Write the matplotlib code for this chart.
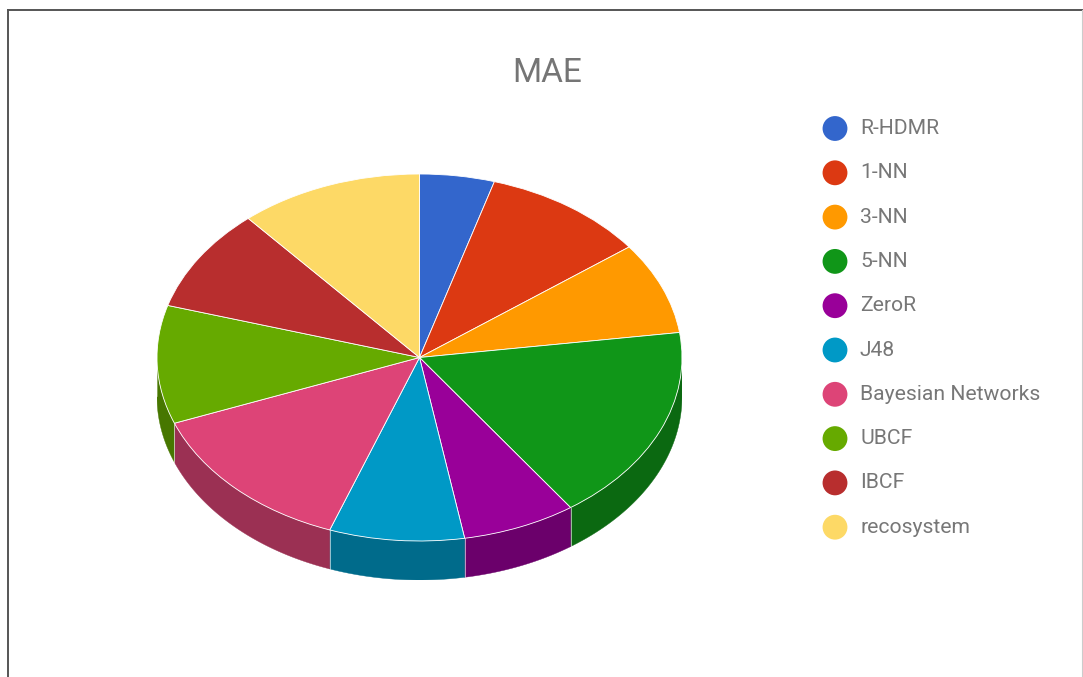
import numpy as np
import matplotlib.pyplot as plt
from matplotlib.colors import to_rgb
from matplotlib.patches import Polygon
from matplotlib.lines import Line2D

plt.rcParams['font.family'] = ['Roboto', 'DejaVu Sans']

methods = ['R-HDMR', '1-NN', '3-NN', '5-NN', 'ZeroR', 'J48',
           'Bayesian Networks', 'UBCF', 'IBCF', 'recosystem']
mae = [0.046, 0.101, 0.081, 0.174, 0.070, 0.083, 0.136, 0.104, 0.091, 0.113]
colors = ['#3366cc', '#dc3912', '#ff9900', '#109618', '#990099',
          '#0099c6', '#dd4477', '#66aa00', '#b82e2e', '#fdd966']

W, H = 1083, 677
fig = plt.figure(figsize=(W / 100, H / 100), dpi=100)

# pie area in pixels: ellipse 157..682 wide, 174..541 tall, 39 px thick
depth = 39 / 183.5
left, right, top, bottom = 157, 682, 174, 541 + 39
ax = fig.add_axes([left / W, 1 - bottom / H, (right - left) / W, (bottom - top) / H])

wedges, _ = ax.pie(mae, colors=colors, startangle=90, counterclock=False,
                   radius=1, wedgeprops=dict(edgecolor='white', linewidth=0.6))
ax.set_aspect('auto')
ax.set_xlim(-1, 1)
ax.set_ylim(-1 - depth, 1)
ax.axis('off')

# side wall for the front half of each slice
for w, c in zip(wedges, colors):
    lo, hi = max(w.theta1, -180), min(w.theta2, 0)
    if hi <= lo:
        continue
    a = np.radians(np.linspace(lo, hi, 60))
    topx, topy = np.cos(a), np.sin(a)
    pts = np.column_stack([np.r_[topx, topx[::-1]],
                           np.r_[topy, topy[::-1] - depth]])
    dark = tuple(v * 0.70 for v in to_rgb(c))
    ax.add_patch(Polygon(pts, closed=True, facecolor=dark, edgecolor=dark,
                         linewidth=0.3, zorder=0))
    for x0, y0 in [(topx[0], topy[0]), (topx[-1], topy[-1])]:
        ax.plot([x0, x0], [y0, y0 - depth], color='white', lw=0.5, alpha=0.5, zorder=0.5)

# overlay in pixel coordinates for title, legend and frame
ov = fig.add_axes([0, 0, 1, 1])
ov.set_xlim(0, W)
ov.set_ylim(H, 0)
ov.axis('off')
ov.patch.set_alpha(0)

ov.text(547, 73, 'MAE', fontsize=24, color='#757575', ha='center', va='center')

for i, (name, c) in enumerate(zip(methods, colors)):
    y = 128.5 + i * 44.3
    ov.scatter([835], [y], s=320, color=c, edgecolors='none')
    ov.text(860, y, name, fontsize=15.2, color='#777777', va='center', ha='left')

ov.add_line(Line2D([7.5, W], [9.5, 9.5], color='#555555', lw=1.4))
ov.add_line(Line2D([7.5, 7.5], [9.5, H], color='#555555', lw=1.4))
ov.add_line(Line2D([1081.5, 1081.5], [9.5, H], color='#cccccc', lw=0.8))

fig.savefig('out.png', dpi=100)
